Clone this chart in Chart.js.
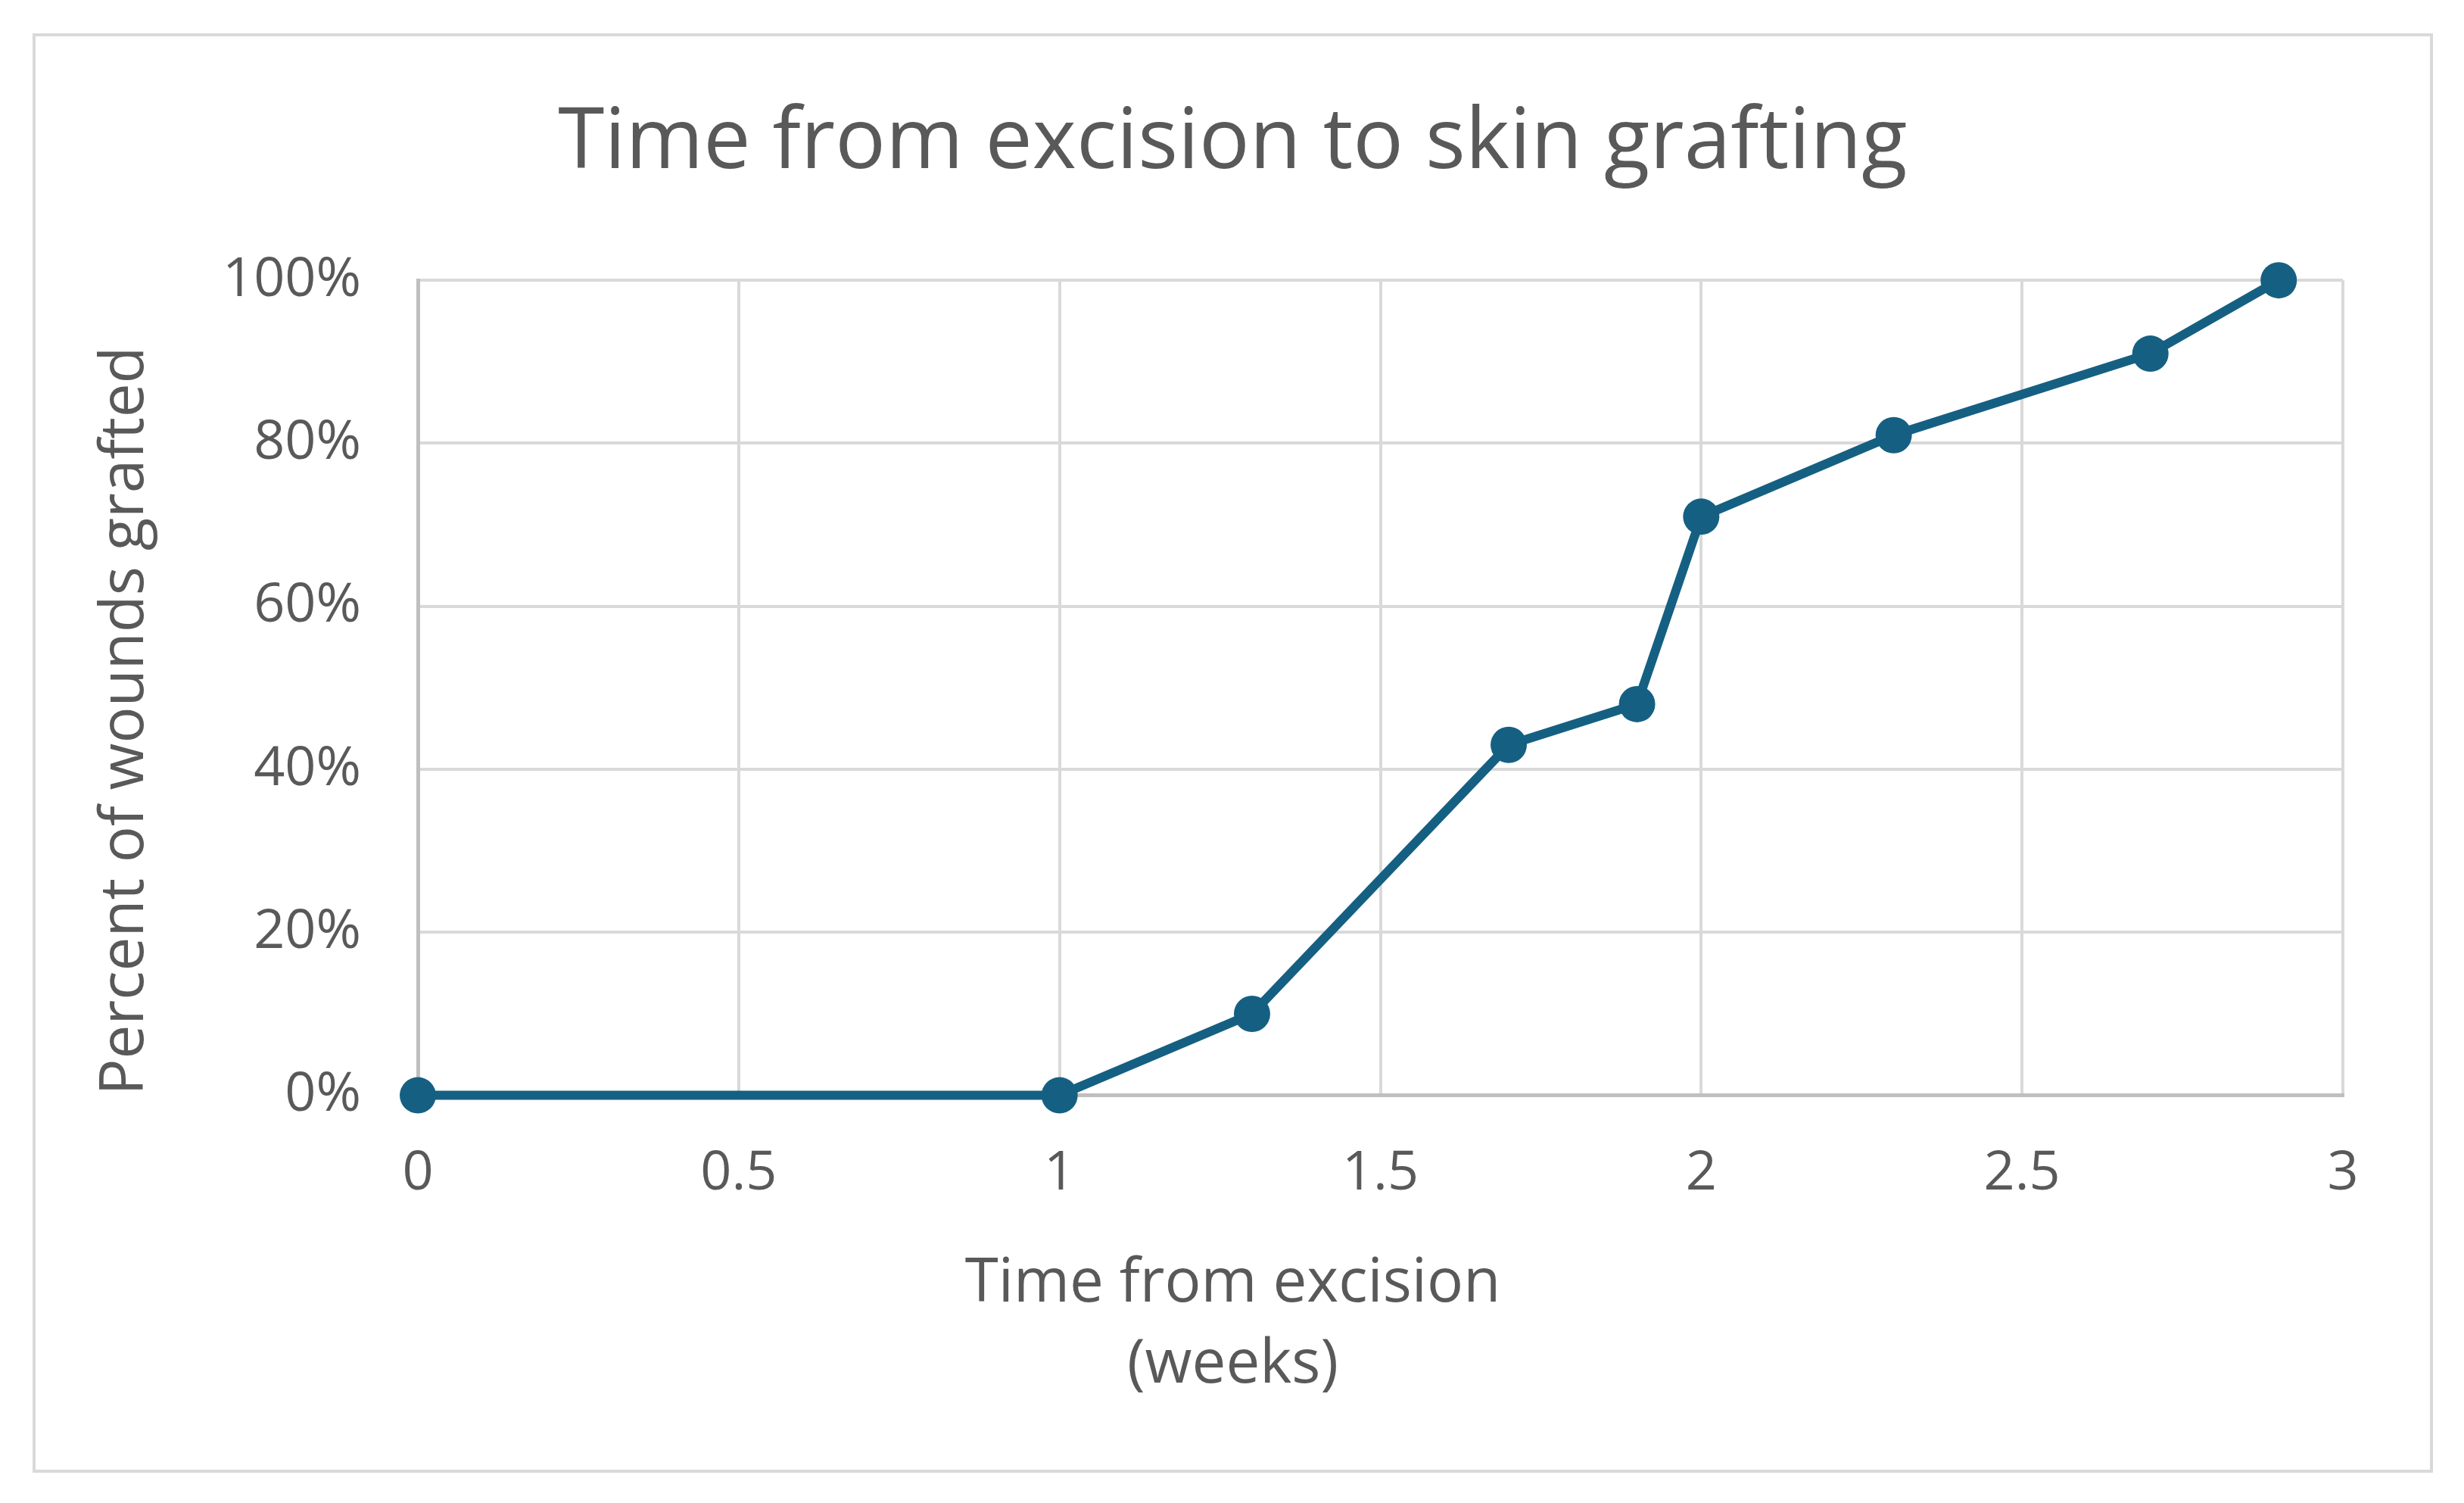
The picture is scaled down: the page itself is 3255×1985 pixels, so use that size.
<!DOCTYPE html>
<html>
<head>
<meta charset="utf-8">
<script src="https://cdn.jsdelivr.net/npm/chart.js@4/dist/chart.umd.min.js"></script>
<style>
  html, body { margin: 0; padding: 0; background: #ffffff; }
  #frame { position: absolute; left: 43px; top: 44px; width: 3171px; height: 1901px; box-sizing: border-box; border: 4px solid #d9d9d9; background: #fff; }
  canvas { display: block; }
</style>
</head>
<body>
<div id="frame"><canvas id="c" width="3163" height="1893"></canvas></div>
<script>
const chartTitle = 'Time from excision to skin grafting';
const xAxisTitle = ['Time from excision', '(weeks)'];
const yAxisTitle = 'Percent of wounds grafted';
const weeks = [0, 1, 1.3, 1.7, 1.9, 2, 2.3, 2.7, 2.9];
const percentGrafted = [0, 0, 10, 43, 48, 71, 81, 91, 100];
const xTicks = [0, 0.5, 1, 1.5, 2, 2.5, 3];
const yTicks = [0, 20, 40, 60, 80, 100];

const FONT = "'Open Sans', 'Noto Sans', sans-serif";
const TEXT = '#595959';
const LINE = '#156082';

const points = weeks.map((w, i) => ({ x: w, y: percentGrafted[i] }));

new Chart(document.getElementById('c'), {
  type: 'line',
  data: {
    datasets: [{
      data: points,
      borderColor: LINE,
      backgroundColor: LINE,
      borderWidth: 12,
      pointRadius: 24,
      pointHoverRadius: 24,
      pointBackgroundColor: LINE,
      pointBorderWidth: 0,
      tension: 0,
      fill: false,
      clip: false
    }]
  },
  options: {
    responsive: false,
    animation: false,
    events: [],
    layout: { padding: { left: 115, right: 115, top: 0, bottom: 0 } },
    plugins: {
      legend: { display: false },
      tooltip: { enabled: false },
      title: {
        display: true,
        text: chartTitle,
        color: TEXT,
        font: { family: FONT, size: 111, weight: 'normal', lineHeight: 1.2 },
        padding: { top: 76, bottom: 113 }
      },
      subtitle: {
        display: true,
        position: 'bottom',
        text: xAxisTitle,
        color: TEXT,
        font: { family: FONT, size: 80, weight: 'normal', lineHeight: 1.34 },
        padding: { top: 55, bottom: 84 }
      }
    },
    scales: {
      x: {
        type: 'linear',
        min: xTicks[0],
        max: xTicks[xTicks.length - 1],
        afterBuildTicks: (s) => { s.ticks = xTicks.map(v => ({ value: v })); },
        afterFit: (s) => { s.height = 141; },
        ticks: {
          color: TEXT,
          font: { family: FONT, size: 72, lineHeight: 1.2 },
          padding: 61,
          callback: (v) => String(v)
        },
        grid: { color: '#d9d9d9', lineWidth: 4, drawTicks: false },
        border: { color: '#bfbfbf', width: 5 }
      },
      y: {
        type: 'linear',
        min: yTicks[0],
        max: yTicks[yTicks.length - 1],
        afterBuildTicks: (s) => { s.ticks = yTicks.map(v => ({ value: v })); },
        afterFit: (s) => { s.width = 390; },
        ticks: {
          color: TEXT,
          font: { family: FONT, size: 72, lineHeight: 1.2 },
          padding: 75,
          callback: (v) => v + '%'
        },
        grid: { color: '#d9d9d9', lineWidth: 4, drawTicks: false },
        border: { color: '#bfbfbf', width: 5 },
        title: {
          display: true,
          text: yAxisTitle,
          align: 'start',
          color: TEXT,
          font: { family: FONT, size: 80, lineHeight: 1.2 },
          padding: { top: -44, bottom: 0 }
        }
      }
    }
  }
});
</script>
</body>
</html>
